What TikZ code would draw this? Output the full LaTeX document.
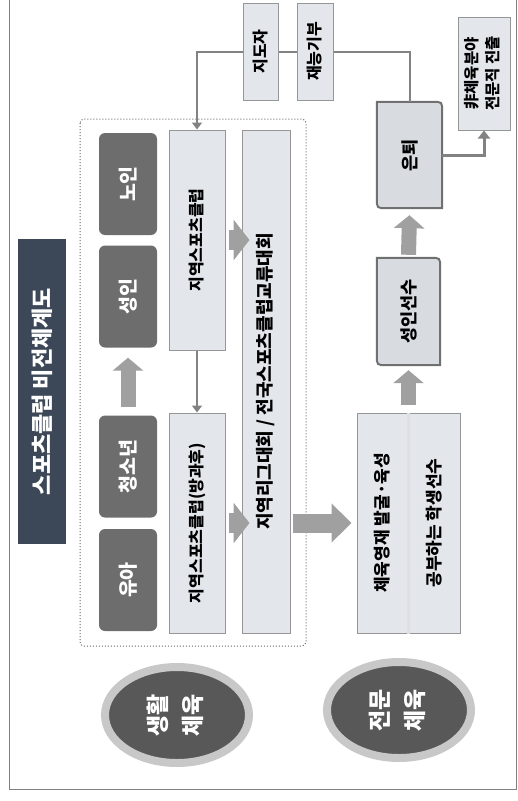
\documentclass[tikz,border=0pt]{standalone}
\usepackage{fontspec}
\setmainfont{Noto Sans CJK KR}
\usepackage{graphicx}
\usepackage{tikz}
\usetikzlibrary{arrows.meta}
\usetikzlibrary{shapes.geometric}
\usetikzlibrary{calc}
\usetikzlibrary{backgrounds}
\definecolor{titleblue}{RGB}{60,71,87}
\definecolor{agegray}{RGB}{109,109,109}
\definecolor{lightfill}{RGB}{227,230,235}
\definecolor{edgegray}{RGB}{150,150,150}
\definecolor{stagefill}{RGB}{216,219,224}
\definecolor{stageline}{RGB}{112,112,112}
\definecolor{conngray}{RGB}{130,130,130}
\definecolor{blockgray}{RGB}{160,160,160}
\definecolor{ringgray}{RGB}{200,200,200}
\definecolor{coregray}{RGB}{88,88,88}

\newcommand{\vtext}[1]{\rotatebox{90}{#1}}
\newcommand{\vtwo}[2]{\rotatebox{90}{\begin{tabular}{@{}c@{}}#1\\#2\end{tabular}}}

\tikzset{
	agebox/.style={rounded corners=6pt,fill=agegray,text=white,inner sep=0pt,
		minimum width=58pt,minimum height=102pt,font=\fontsize{19.5}{19.5}\selectfont\bfseries},
	lightbox/.style={fill=lightfill,draw=edgegray,line width=1pt,inner sep=0pt,
		font=\fontsize{16}{16}\selectfont\bfseries},
	stagebox/.style={inner sep=0pt,font=\fontsize{17.5}{17.5}\selectfont\bfseries},
	fieldell/.style={ellipse,fill=coregray,draw=ringgray,line width=8pt,text=white,
		minimum width=144pt,minimum height=96pt,inner sep=0pt,
		font=\fontsize{23}{35}\selectfont\bfseries},
	conn/.style={draw=conngray,line width=2pt},
	blockarrow/.style={draw=blockgray,line width=20pt,-{Triangle[width=40pt,length=16pt]}},
	uparrow/.style={draw=blockgray,line width=15pt,-{Triangle[width=30pt,length=13pt]}}
}

\begin{document}
\begin{tikzpicture}[x=1pt,y=-1pt]
	\useasboundingbox (0,0) rectangle (518,801);
	\draw[gray,line width=.8pt] (9,-5) rectangle (516,789);
	
	\node[fill=titleblue,text=white,inner sep=0pt,minimum width=48pt,minimum height=305pt,
		font=\fontsize{22}{22}\selectfont\bfseries] (title) at (42,391.5) {\vtext{스포츠클럽 비전체계도}};
	
	\draw[dotted,line width=1pt,rounded corners=4pt,gray!80!black] (80,119) rectangle (306,646);
	
	% 생활체육
	\node[agebox] (old) at (128,184) {\vtext{노인}};
	\node[agebox] (adult) at (128,296.5) {\vtext{성인}};
	\node[agebox] (teen) at (128,466.5) {\vtext{청소년}};
	\node[agebox] (kid) at (128,580) {\vtext{유아}};
	
	\node[lightbox,minimum width=56pt,minimum height=220pt] (club) at (197,240) {\vtext{지역스포츠클럽}};
	\node[lightbox,minimum width=56pt,minimum height=220pt] (school) at (197,523) {\vtext{지역스포츠클럽(방과후)}};
	\node[lightbox,minimum width=48pt,minimum height=503pt,font=\fontsize{18}{18}\selectfont\bfseries] (league) at (266,381.5) {\vtext{지역리그대회 / 전국스포츠클럽교류대회}};
	
	% 전문체육
	\node[lightbox,minimum width=51pt,minimum height=220pt,font=\fontsize{17}{17}\selectfont\bfseries] (elite) at (382.5,523) {\vtext{체육영재 발굴·육성}};
	\node[lightbox,minimum width=52pt,minimum height=220pt,font=\fontsize{17}{17}\selectfont\bfseries] (student) at (434,523) {\vtext{공부하는 학생선수}};
	\draw[white!75!gray,line width=3pt] (elite.north east) -- (elite.south east);
	
	\node[stagebox,minimum width=63pt,minimum height=107pt] (pro) at (408.5,311.5) {\vtext{성인선수}};
	\node[stagebox,minimum width=65pt,minimum height=106pt] (retire) at (409.5,155) {\vtext{은퇴}};
	\begin{scope}[on background layer]
		\foreach \n in {pro,retire}
		\draw[fill=stagefill,draw=stageline,line width=2pt] (\n.north west) -- ($(\n.north east)+(-10,0)$) .. controls (\n.north east) .. ($(\n.north east)+(0,10)$) -- (\n.south east) -- ($(\n.south west)+(10,0)$) .. controls (\n.south west) .. ($(\n.south west)+(0,-10)$) -- cycle;
	\end{scope}
	
	\node[lightbox,minimum width=35pt,minimum height=97pt] (coach) at (260.5,51.5) {\vtext{지도자}};
	\node[lightbox,minimum width=36pt,minimum height=97pt] (donate) at (315,51.5) {\vtext{재능기부}};
	\node[lightbox,minimum width=52pt,minimum height=113pt,font=\fontsize{15.5}{20.5}\selectfont\bfseries] (career) at (484,73.5) {\vtwo{非체육분야}{전문직 진출}};
	
	\node[fieldell] (life) at (177,715) {\vtwo{생활}{체육}};
	\node[fieldell] (sport) at (399,710) {\vtwo{전문}{체육}};
	
	% connectors
	\draw[conn] (retire.north) |- (donate.east);
	\draw[conn] (donate.west) -- (coach.east);
	\draw[conn,-{Triangle[width=10pt,length=7pt]}] (coach.west) -| (club.north);
	\draw[conn,-{Triangle[width=10pt,length=7pt]}] (club.south) -- (school.north);
	\draw[conn,line width=3pt,-{Triangle[width=12pt,length=8pt]}] (retire.east) -| (career.south);
	
	\draw[blockarrow] ($(club.east)+(3,0)$) -- ($(league.west |- club.east)+(8,0)$);
	\draw[blockarrow] ($(school.east)+(3,0)$) -- ($(league.west |- school.east)+(8,0)$);
	\draw[blockarrow,line width=19pt,-{Triangle[width=38pt,length=20pt]}] ($(league.east |- elite.west)+(2,0)$) -- ($(elite.west)+(-5,0)$);
	\draw[uparrow] ($(teen.north)+(0,-8)$) -- ($(adult.south)+(0,10)$);
	\draw[uparrow] ($(elite.north east)+(0,-8)$) -- ($(elite.north east |- pro.south)+(0,5)$);
	\draw[uparrow] ($(pro.north)+(0,-3)$) -- ($(retire.south)+(0,7)$);
\end{tikzpicture}
\end{document}
